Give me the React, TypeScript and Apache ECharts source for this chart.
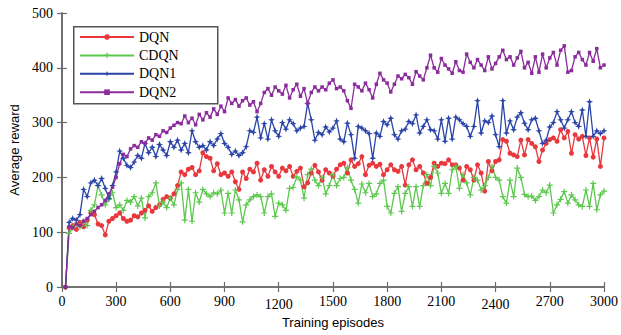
import React, { useEffect, useRef } from "react";
import * as echarts from "echarts";

const seriesNames = ["DQN", "CDQN", "DQN1", "DQN2"];
const xTicks = [0, 300, 600, 900, 1200, 1500, 1800, 2100, 2400, 2700, 3000];
const yTicks = [0, 100, 200, 300, 400, 500];
// episode at which each value was logged (every 20 episodes)
const episodes: number[] = Array.from({ length: 150 }, (_, i) => (i + 1) * 20);

const dqn = [
  0, 108, 112, 105, 118, 110, 122, 135, 132, 115,
  112, 95, 120, 125, 130, 135, 125, 120, 122, 130,
  128, 135, 140, 148, 138, 145, 150, 160, 165, 162,
  170, 185, 210, 205, 215, 218, 205, 212, 245, 238,
  235, 212, 225, 205, 208, 202, 210, 192, 178, 210,
  198, 215, 210, 226, 195, 214, 202, 220, 210, 202,
  217, 212, 220, 202, 211, 217, 183, 190, 208, 222,
  210, 195, 214, 208, 202, 215, 223, 226, 208, 232,
  220, 225, 238, 205, 222, 226, 220, 224, 205, 214,
  223, 214, 211, 220, 186, 223, 232, 214, 220, 208,
  189, 200, 226, 220, 226, 225, 232, 223, 223, 217,
  195, 220, 214, 195, 223, 208, 175, 229, 212, 229,
  232, 269, 266, 244, 241, 238, 268, 241, 269, 262,
  256, 229, 250, 262, 269, 272, 266, 287, 272, 284,
  244, 278, 270, 275, 240, 272, 237, 270, 220, 272,
];

const cdqn = [
  0, 98, 108, 115, 110, 120, 112, 140, 150, 185,
  168, 150, 160, 172, 145, 150, 140, 158, 155, 165,
  148, 162, 126, 165, 172, 190, 148, 155, 145, 162,
  150, 178, 190, 122, 178, 120, 172, 155, 178, 170,
  165, 172, 170, 177, 135, 171, 135, 177, 159, 119,
  150, 159, 165, 168, 165, 135, 165, 170, 129, 153,
  150, 140, 180, 182, 201, 195, 162, 205, 215, 195,
  185, 200, 170, 185, 205, 185, 198, 200, 218, 195,
  178, 153, 188, 172, 189, 165, 170, 189, 195, 147,
  135, 171, 183, 138, 171, 183, 147, 183, 147, 185,
  205, 185, 220, 208, 171, 189, 171, 214, 220, 180,
  205, 190, 168, 200, 195, 177, 185, 200, 220, 200,
  195, 165, 153, 195, 165, 217, 200, 169, 165, 166,
  158, 165, 177, 172, 186, 135, 150, 160, 174, 153,
  168, 159, 150, 147, 177, 147, 189, 141, 168, 175,
];

const dqn1 = [
  0, 118, 125, 122, 132, 178, 165, 190, 195, 185,
  198, 180, 162, 185, 210, 248, 235, 222, 218, 228,
  240, 235, 262, 245, 255, 238, 260, 250, 240, 265,
  255, 268, 250, 262, 245, 285, 265, 255, 258, 250,
  265, 258, 270, 280, 262, 255, 242, 248, 240, 245,
  256, 285, 282, 310, 272, 298, 270, 305, 285, 275,
  300, 288, 305, 298, 285, 290, 293, 335, 305, 268,
  282, 278, 292, 283, 290, 303, 270, 265, 299, 278,
  235, 293, 290, 285, 280, 235, 281, 275, 302, 296,
  308, 278, 270, 285, 288, 302, 298, 314, 281, 293,
  305, 287, 285, 270, 305, 266, 308, 270, 310, 305,
  298, 293, 275, 293, 340, 281, 303, 300, 312, 278,
  256, 340, 281, 303, 287, 310, 318, 299, 287, 305,
  308, 285, 262, 268, 292, 300, 320, 305, 290, 305,
  320, 300, 293, 323, 275, 338, 275, 285, 280, 285,
];

const dqn2 = [
  0, 110, 108, 115, 112, 120, 125, 132, 138, 145,
  150, 158, 170, 182, 200, 225, 242, 238, 252, 258,
  255, 265, 262, 272, 268, 278, 275, 285, 282, 290,
  295, 300, 298, 312, 300, 308, 296, 315, 305, 318,
  310, 325, 315, 330, 320, 345, 335, 342, 330, 340,
  345, 332, 338, 320, 335, 355, 362, 350, 365, 358,
  352, 368, 345, 360, 370, 348, 362, 335, 355, 365,
  358, 365, 360, 372, 378, 362, 365, 358, 340, 326,
  370, 365, 358, 372, 360, 345, 370, 390, 378, 372,
  356, 370, 385, 380, 388, 382, 370, 393, 385, 378,
  400, 423, 400, 392, 417, 405, 398, 390, 411, 395,
  392, 425, 410, 400, 415, 405, 395, 420, 398, 408,
  420, 432, 415, 420, 405, 418, 430, 400, 410, 390,
  420, 392, 425, 400, 418, 428, 405, 432, 440, 392,
  395, 420, 428, 415, 405, 428, 412, 435, 400, 405,
];

const colors = ["#e8383d", "#5cc84e", "#2a44a8", "#8b2c9c"];
const symbols = [
  "circle",
  "path://M-1,-5H1V-1H5V1H1V5H-1V1H-5V-1H-1Z",
  "path://M0,-5L1.3,-1.3L5,0L1.3,1.3L0,5L-1.3,1.3L-5,0L-1.3,-1.3Z",
  "rect",
];
const symbolSizes = [5, 6, 7, 3.5];
const values = [dqn, cdqn, dqn1, dqn2];
const loweredLabels = [1200, 2400];

const serif = "Liberation Serif";
const sans = "Liberation Sans";
const frame = { lineStyle: { color: "#6b6b6b", width: 1.6 } };
const tick = { show: true, inside: true, length: 5, lineStyle: { color: "#6b6b6b", width: 1.2 } };

export default function App() {
  const ref = useRef<HTMLDivElement>(null);
  useEffect(() => {
    if (!ref.current) return;
    const chart = echarts.init(ref.current, null, { renderer: "svg" });
    const xInterval = xTicks[1] - xTicks[0];
    const yInterval = yTicks[1] - yTicks[0];
    const labelText = { fontFamily: serif, fontSize: 14, color: "#000", lineHeight: 16 };
    chart.setOption({
      animation: false,
      backgroundColor: "#ffffff",
      grid: { left: 58, right: 12, top: 13, bottom: 48 },
      graphic: [
        {
          type: "rect",
          z: 5,
          left: 73,
          top: 26,
          shape: { width: 144, height: 77 },
          style: { fill: "#ffffff", stroke: "#555555", lineWidth: 1.5 },
        },
      ],
      legend: {
        orient: "vertical",
        left: 79,
        top: 30,
        z: 10,
        data: seriesNames,
        itemWidth: 54,
        itemHeight: 7,
        itemGap: 4.4,
        padding: 0,
        textStyle: { fontFamily: serif, fontSize: 14, color: "#000", lineHeight: 14 },
      },
      xAxis: [
        {
          type: "value",
          min: xTicks[0],
          max: xTicks[xTicks.length - 1],
          interval: xInterval,
          position: "bottom",
          name: "Training episodes",
          nameLocation: "middle",
          nameGap: 29,
          nameTextStyle: { fontFamily: sans, fontSize: 13, color: "#000" },
          axisLine: frame,
          axisTick: tick,
          splitLine: { show: false },
          axisLabel: {
            margin: 8,
            ...labelText,
            formatter: (v: number) =>
              loweredLabels.includes(v) ? `{lo|${v}}` : `{n|${v}}`,
            rich: {
              n: { ...labelText, padding: [0, 0, 3, 0] },
              lo: { ...labelText, padding: [3, 0, 0, 0] },
            },
          },
        },
        {
          type: "value",
          min: xTicks[0],
          max: xTicks[xTicks.length - 1],
          interval: xInterval,
          position: "top",
          axisLine: frame,
          axisTick: tick,
          axisLabel: { show: false },
          splitLine: { show: false },
        },
      ],
      yAxis: [
        {
          type: "value",
          min: yTicks[0],
          max: yTicks[yTicks.length - 1],
          interval: yInterval,
          position: "left",
          name: "Average reward",
          nameLocation: "middle",
          nameGap: 38,
          nameTextStyle: { fontFamily: sans, fontSize: 13, color: "#000" },
          axisLine: frame,
          axisTick: tick,
          splitLine: { show: false },
          axisLabel: { margin: 9, fontFamily: serif, fontSize: 14, color: "#000" },
        },
        {
          type: "value",
          min: yTicks[0],
          max: yTicks[yTicks.length - 1],
          interval: yInterval,
          position: "right",
          axisLine: frame,
          axisTick: tick,
          axisLabel: { show: false },
          splitLine: { show: false },
        },
      ],
      series: seriesNames.map((name, k) => ({
        name,
        type: "line",
        xAxisIndex: 0,
        yAxisIndex: 0,
        data: episodes.map((e, i) => [e, values[k][i]]),
        symbol: symbols[k],
        symbolSize: symbolSizes[k],
        showSymbol: true,
        showAllSymbol: true,
        lineStyle: { color: colors[k], width: 1.3 },
        itemStyle: { color: colors[k] },
        emphasis: { disabled: true },
      })),
    });
    return () => chart.dispose();
  }, []);
  return (
    <div
      ref={ref}
      style={{ position: "absolute", left: 0, top: 0, width: 621, height: 335, background: "#fff" }}
    />
  );
}
